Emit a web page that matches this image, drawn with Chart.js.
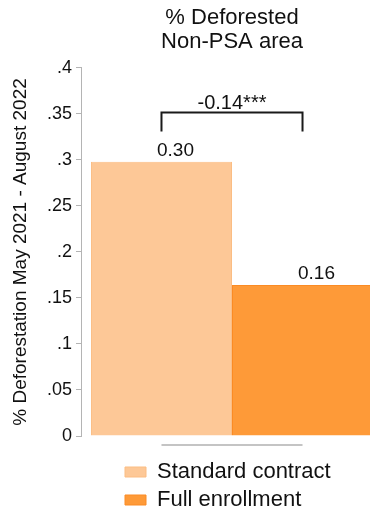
<!DOCTYPE html>
<html>
<head>
<meta charset="utf-8">
<script src="https://cdn.jsdelivr.net/npm/chart.js@4"></script>
<style>
  html, body { margin: 0; padding: 0; background: #ffffff; overflow: hidden; }
  /* canvas is a bit wider than the window so the second bar is cut at the right edge */
  #wrap { position: relative; width: 384px; height: 508px; }
</style>
</head>
<body>
<div id="wrap"><canvas id="chart"></canvas></div>
<script>
// ---- data ----
const categories = ['Non-PSA area'];
const seriesNames = ['Standard contract', 'Full enrollment'];
const standardValues = [0.298];
const fullValues = [0.164];
const valueLabels = ['0.30', '0.16'];
const yTickLabels = ['0', '.05', '.1', '.15', '.2', '.25', '.3', '.35', '.4'];
const diffLabel = '-0.14***';
const bracketLevels = [0.352, 0.331]; // top line, bottom of the end ticks

const colors = {
  standard: '#fdc897',
  standardEdge: '#fbbd83',
  full: '#fe9a38',
  fullEdge: '#fb8b24',
  axis: '#b4b4b4',
  text: '#111111'
};

const font = 'Liberation Sans, Arial, Helvetica, sans-serif';

// Draws the short x axis line, the difference bracket and the value labels
const annotations = {
  id: 'annotations',
  afterDatasetsDraw(chart) {
    const ctx = chart.ctx;
    const y = chart.scales.y;
    const bars = [chart.getDatasetMeta(0).data[0], chart.getDatasetMeta(1).data[0]];
    ctx.save();

    // x axis line, only between the bar centres
    const axisY = chart.chartArea.bottom + 9;
    ctx.strokeStyle = '#c4c4c4';
    ctx.lineWidth = 2;
    ctx.beginPath();
    ctx.moveTo(bars[0].x, axisY);
    ctx.lineTo(bars[1].x, axisY);
    ctx.stroke();

    // bracket
    const top = Math.round(y.getPixelForValue(bracketLevels[0])) + 0.5;
    const low = y.getPixelForValue(bracketLevels[1]);
    ctx.strokeStyle = '#1a1a1a';
    ctx.lineWidth = 2;
    ctx.beginPath();
    ctx.moveTo(bars[0].x, low);
    ctx.lineTo(bars[0].x, top);
    ctx.lineTo(bars[1].x, top);
    ctx.lineTo(bars[1].x, low);
    ctx.stroke();

    ctx.fillStyle = colors.text;
    ctx.textAlign = 'center';
    ctx.textBaseline = 'alphabetic';
    ctx.font = '20px ' + font;
    ctx.fillText(diffLabel, (bars[0].x + bars[1].x) / 2, top - 4);

    // value labels above bars
    ctx.font = '19px ' + font;
    bars.forEach((bar, i) => {
      ctx.fillText(valueLabels[i], bar.x + 14, bar.y - 6);
    });
    ctx.restore();
  }
};

// Stata-like legend: stacked rows, left aligned under the plot
const legendShift = {
  id: 'legendShift',
  afterLayout(chart) {
    if (chart.legend) {
      chart.legend.left += 38;
      chart.legend.right += 38;
    }
  }
};

new Chart(document.getElementById('chart'), {
  type: 'bar',
  data: {
    labels: categories,
    datasets: [
      {
        label: seriesNames[0],
        data: standardValues,
        backgroundColor: colors.standard,
        borderColor: colors.standardEdge,
        borderWidth: 1
      },
      {
        label: seriesNames[1],
        data: fullValues,
        backgroundColor: colors.full,
        borderColor: colors.fullEdge,
        borderWidth: 1
      }
    ]
  },
  options: {
    responsive: true,
    maintainAspectRatio: false,
    animation: false,
    layout: { padding: { left: 0, right: 1, top: 0, bottom: -13 } },
    datasets: {
      bar: { barPercentage: 1, categoryPercentage: 0.934 }
    },
    plugins: {
      title: {
        display: true,
        fullSize: false,
        text: ['% Deforested', 'Non-PSA area'],
        color: colors.text,
        font: { family: font, size: 22, weight: 'normal', lineHeight: 1.09 },
        padding: { top: 6, bottom: 14 }
      },
      legend: {
        display: true,
        position: 'bottom',
        align: 'start',
        fullSize: false,
        labels: {
          color: colors.text,
          font: { family: font, size: 22 },
          boxWidth: 21,
          boxHeight: 10,
          padding: 6
        }
      },
      tooltip: { enabled: false }
    },
    scales: {
      x: {
        display: true,
        grid: { display: false },
        border: { display: false },
        ticks: { display: false },
        afterFit(scale) { scale.height = 19; }
      },
      y: {
        min: 0,
        max: 0.4,
        afterFit(scale) { scale.width = 81; },
        ticks: {
          stepSize: 0.05,
          color: colors.text,
          font: { family: font, size: 18 },
          padding: 4,
          callback: (value, index) => yTickLabels[index]
        },
        grid: {
          drawOnChartArea: false,
          drawTicks: true,
          tickLength: 5,
          color: colors.axis,
          lineWidth: 1
        },
        border: { display: true, color: colors.axis, width: 1 },
        title: {
          display: true,
          text: '% Deforestation May 2021 - August 2022',
          color: colors.text,
          font: { family: font, size: 19 },
          padding: { top: 9, bottom: 0 }
        }
      }
    }
  },
  plugins: [annotations, legendShift]
});
</script>
</body>
</html>
